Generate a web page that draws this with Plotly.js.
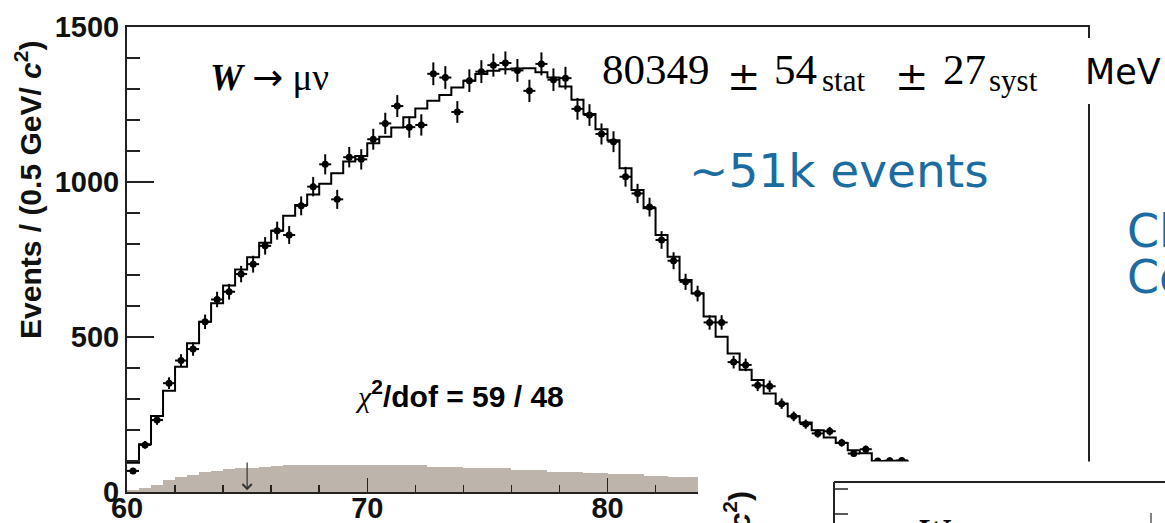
<!DOCTYPE html>
<html>
<head>
<meta charset="utf-8">
<script src="https://cdn.plot.ly/plotly-3.0.1.min.js"></script>
<style>html,body{margin:0;padding:0;background:#fff;}#chart{width:1165px;height:523px;}</style>
</head>
<body>
<div id="chart"></div>
<script>
// ---- data ----
// transverse mass bins: 0.5 GeV wide, starting at 60 GeV
const binStart = 60;
const binWidth = 0.5;
// observed events per bin (W -> mu nu)
const dataCounts = [68,152,232,351,424,461,549,621,646,703,735,794,843,829,923,985,1057,944,1080,1073,
  1138,1189,1245,1177,1184,1349,1337,1226,1327,1356,1377,1384,1360,1294,1381,1330,1335,1236,1216,1155,
  1130,1017,963,919,813,746,678,640,547,547,419,410,344,341,285,244,219,189,196,159,124,138,100,101,102];
// best-fit template (step histogram)
const fitTemplate = [94,154,245,327,404,480,549,609,666,718,757,804,843,891,926,960,994,1028,1066,1084,
  1125,1146,1176,1209,1237,1262,1281,1305,1327,1348,1359,1364,1366,1367,1354,1337,1308,1265,1219,1170,
  1135,1044,974,915,829,759,684,641,566,501,447,394,361,318,285,244,224,199,176,158,135,125,100,99,99,85];
// background (shaded)
const background = [6,12,22,40,48,56,63,68,73,78,78,80,84,87,87,87,87,87,87,87,87,87,87,87,87,
  82,82,82,76,76,76,76,71,71,71,66,66,66,62,62,58,58,58,53,53,47,47,47,45,44];
const fitLowEdge = 65;       // arrow marking the fit window
const xTickLabels = [60,70,80,90,100];
const yTickLabels = [0,500,1000,1500];
const mwText = {value:'80349', stat:'54', syst:'27', unit:'MeV'};
const chi2Text = {chi2:59, dof:48};

// ---- layout helpers (pixel -> paper) ----
const L = 127, R = 1088, T = 27, B = 492;
const xp = p => (p - L) / (R - L);
const yp = p => (B - p) / (B - T);

const axisCol = '#222';
const tickFont = {family:'Liberation Sans, Arial, sans-serif', size:29, weight:'bold', color:'#111'};
const blue = '#1b6ca0';

const traces = [
  {type:'bar', x0: binStart + binWidth/2, dx: binWidth, y: background, width: binWidth,
   marker:{color:'#bdb5ab', line:{width:0}}, hoverinfo:'skip'},
  {type:'scatter', mode:'lines', x0: binStart, dx: binWidth,
   y: fitTemplate.concat([fitTemplate[fitTemplate.length-1]]),
   line:{shape:'hv', color:'#000', width:2}},
  {type:'scatter', mode:'markers', x0: binStart + binWidth/2, dx: binWidth, y: dataCounts,
   marker:{color:'#000', size:7},
   error_y:{type:'sqrt', thickness:2, width:0, color:'#000'},
   error_x:{type:'constant', value: binWidth/2, thickness:2, width:0, color:'#000'}}
];

const shapes = [
  // slide: white area covering the lower-right part of the plot
  {type:'rect', xref:'paper', yref:'paper', x0: xp(698), x1: xp(1175), y0: yp(530), y1: yp(461.5),
   fillcolor:'#fff', line:{width:0}, layer:'above'},
  // white text box behind "MeV"
  {type:'rect', xref:'paper', yref:'paper', x0: xp(1078), x1: xp(1175), y0: yp(104), y1: yp(38),
   fillcolor:'#fff', line:{width:0}, layer:'above'},
  // second (cropped) plot frame
  {type:'line', xref:'paper', yref:'paper', x0: xp(834), x1: xp(1175), y0: yp(482), y1: yp(482),
   line:{color:axisCol, width:2}, layer:'above'},
  {type:'line', xref:'paper', yref:'paper', x0: xp(834), x1: xp(834), y0: yp(482), y1: yp(530),
   line:{color:axisCol, width:2}, layer:'above'},
  {type:'line', xref:'paper', yref:'paper', x0: xp(834), x1: xp(848), y0: yp(489), y1: yp(489),
   line:{color:axisCol, width:1.5}, layer:'above'},
  {type:'line', xref:'paper', yref:'paper', x0: xp(834), x1: xp(848), y0: yp(514), y1: yp(514),
   line:{color:axisCol, width:1.5}, layer:'above'},
  {type:'line', xref:'paper', yref:'paper', x0: xp(1151), x1: xp(1151), y0: yp(513), y1: yp(530),
   line:{color:'#333', width:1.2}, layer:'above'}
];

const serif = 'Liberation Serif, Times New Roman, serif';
const sans = 'DejaVu Sans, Verdana, sans-serif';
const arial = 'Liberation Sans, Arial, sans-serif';
const yTitle = 'Events / (0.5 GeV/ <i>c</i><sup>2</sup>)';

const annotations = [
  {xref:'paper', yref:'paper', x: xp(28), y: yp(190), text: yTitle, textangle:-90, showarrow:false,
   xanchor:'center', yanchor:'middle', font:{family:arial, size:30, weight:'bold', color:'#111'}},
  {xref:'paper', yref:'paper', x: xp(269), y: yp(78), showarrow:false, xanchor:'center', yanchor:'middle',
   text:'<b><i>W</i></b> <span style="font-family:DejaVu Sans">\u2192</span> \u03bc\u03bd',
   font:{family:serif, size:37, color:'#000'}},
  {xref:'paper', yref:'paper', x: xp(600), y: yp(69.5), showarrow:false, xanchor:'left', yanchor:'middle',
   text: mwText.value, font:{family:serif, size:43, color:'#000'}},
  {xref:'paper', yref:'paper', x: xp(744), y: yp(76), showarrow:false, xanchor:'center', yanchor:'middle',
   text:'\u00b1', font:{family:'DejaVu Serif, serif', size:40, color:'#000'}},
  {xref:'paper', yref:'paper', x: xp(772), y: yp(69.5), showarrow:false, xanchor:'left', yanchor:'middle',
   text: mwText.stat, font:{family:serif, size:43, color:'#000'}},
  {xref:'paper', yref:'paper', x: xp(820), y: yp(81), showarrow:false, xanchor:'left', yanchor:'middle',
   text:'stat', font:{family:serif, size:31, color:'#000'}},
  {xref:'paper', yref:'paper', x: xp(912), y: yp(76), showarrow:false, xanchor:'center', yanchor:'middle',
   text:'\u00b1', font:{family:'DejaVu Serif, serif', size:40, color:'#000'}},
  {xref:'paper', yref:'paper', x: xp(941), y: yp(69.5), showarrow:false, xanchor:'left', yanchor:'middle',
   text: mwText.syst, font:{family:serif, size:43, color:'#000'}},
  {xref:'paper', yref:'paper', x: xp(987), y: yp(81), showarrow:false, xanchor:'left', yanchor:'middle',
   text:'syst', font:{family:serif, size:31, color:'#000'}},
  {xref:'paper', yref:'paper', x: xp(1083), y: yp(72), showarrow:false, xanchor:'left', yanchor:'middle',
   text: mwText.unit, font:{family:sans, size:35, color:'#000'}},
  {xref:'paper', yref:'paper', x: xp(687), y: yp(170), showarrow:false, xanchor:'left', yanchor:'middle',
   text:'~51k events', font:{family:sans, size:47, color:blue}},
  {xref:'paper', yref:'paper', x: xp(1125), y: yp(231), showarrow:false, xanchor:'left', yanchor:'middle',
   height:40, valign:'middle', text:'Cl', font:{family:sans, size:46, color:blue}},
  {xref:'paper', yref:'paper', x: xp(1125), y: yp(277), showarrow:false, xanchor:'left', yanchor:'middle',
   height:40, valign:'middle', text:'Co', font:{family:sans, size:46, color:blue}},
  {xref:'paper', yref:'paper', x: xp(459), y: yp(394), showarrow:false, xanchor:'center', yanchor:'middle',
   text:'<span style="font-family:Liberation Serif;font-weight:normal;font-style:italic">\u03c7</span><sup>2</sup>/dof = ' + chi2Text.chi2 + ' / ' + chi2Text.dof,
   font:{family:arial, size:30, weight:'bold', color:'#000'}},
  {xref:'x', yref:'y', axref:'x', ayref:'y', x: fitLowEdge, y: 6, ax: fitLowEdge, ay: 100, text:'',
   showarrow:true, arrowhead:4, arrowsize:1.5, arrowwidth:1.2, arrowcolor:'#333', font:{size:2}},
  // second (cropped) plot
  {xref:'paper', yref:'paper', x: xp(737), y: yp(489), text: yTitle, textangle:-90, showarrow:false,
   xanchor:'center', yanchor:'top', font:{family:arial, size:30, weight:'bold', color:'#111'}},
  {xref:'paper', yref:'paper', x: xp(934), y: yp(510), showarrow:false, xanchor:'center', yanchor:'top',
   text:'<b><i>W</i></b>', font:{family:serif, size:36, color:'#000'}}
];

const layout = {
  width:1165, height:523,
  margin:{l:L, r:1165-R, t:T, b:523-B},
  paper_bgcolor:'#fff', plot_bgcolor:'#fff',
  showlegend:false, bargap:0,
  xaxis:{range:[60,100], tickvals:xTickLabels, ticktext:xTickLabels.map(String),
    ticks:'inside', ticklen:14, tickwidth:1.5, tickcolor:axisCol, ticklabelstandoff:-11,
    minor:{ticks:'inside', dtick:2, ticklen:7, tickwidth:1.5, tickcolor:axisCol},
    showline:true, mirror:true, linecolor:axisCol, linewidth:2,
    showgrid:false, zeroline:false, tickfont:tickFont},
  yaxis:{range:[0,1500], tickvals:yTickLabels, ticktext:yTickLabels.map(String),
    ticks:'inside', ticklen:27, tickwidth:1.5, tickcolor:axisCol,
    minor:{ticks:'inside', dtick:100, ticklen:13, tickwidth:1.5, tickcolor:axisCol},
    showline:true, mirror:true, linecolor:axisCol, linewidth:2,
    showgrid:false, zeroline:false, tickfont:tickFont},
  shapes: shapes,
  annotations: annotations
};

Plotly.newPlot('chart', traces, layout, {staticPlot:true, displayModeBar:false});
</script>
</body>
</html>
